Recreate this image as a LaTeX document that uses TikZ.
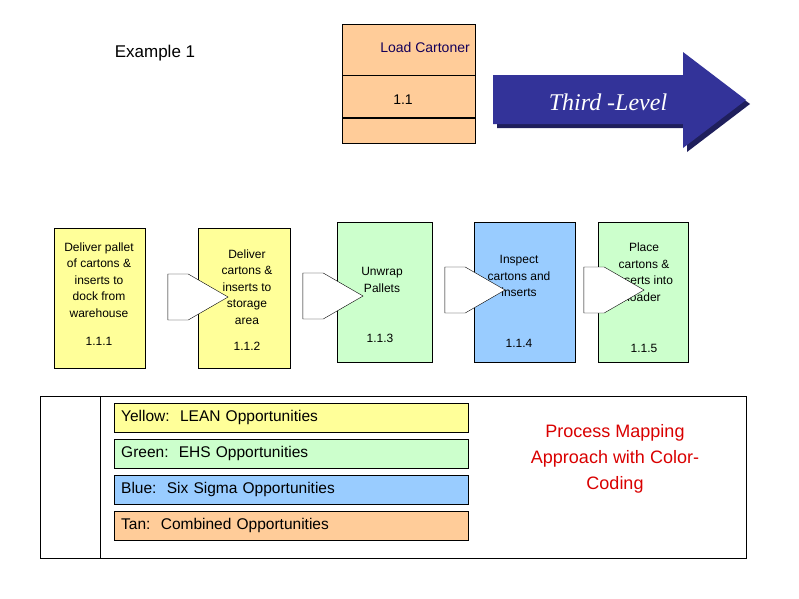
\documentclass[tikz,border=0pt]{standalone}
\usepackage{fontspec}
\setmainfont{Liberation Sans}
\usetikzlibrary{shapes.arrows}
\definecolor{lean}{RGB}{255,255,153}
\definecolor{ehs}{RGB}{204,255,204}
\definecolor{sigma}{RGB}{153,204,255}
\definecolor{tan}{RGB}{255,204,153}
\definecolor{navy}{RGB}{51,51,153}
\definecolor{ink}{RGB}{20,0,90}
\begin{document}
\begin{tikzpicture}[x=1pt,y=-1pt,
  stepbox/.style={align=center, font=\fontsize{12}{16.5}\selectfont},
  legend/.style={draw, anchor=north west, minimum width=354pt, minimum height=29pt, text width=340pt, align=left, font=\fontsize{15.5}{17}\selectfont, inner sep=5pt},
  hollow/.style={single arrow, draw, fill=white, minimum height=34pt, minimum width=46pt, single arrow head extend=0pt, single arrow tip angle=60, inner sep=0pt, text width=20pt, text height=9pt, text depth=9pt}]
\useasboundingbox (0,0) rectangle (799,598);

% top process box
\fill[tan] (342,24) rectangle (475,143);
\draw (342,24) rectangle (475,143);
\draw (342,75) -- (475,75);
\draw[line width=1.5pt] (342,118) -- (475,118);
\node[text=ink, font=\fontsize{14}{16}\selectfont] (lc) at (425,47) {Load Cartoner};
\node[font=\fontsize{14}{16}\selectfont] (l11) at (403,100) {1.1};
\node[font=\fontsize{17}{19}\selectfont] (ex) at (155,53) {Example 1};

% third level arrow
\fill[navy!60!black] (497,79) -- (687,79) -- (687,56) -- (750,104) -- (687,152) -- (687,128) -- (497,128) -- cycle;
\fill[navy] (493,75) -- (683,75) -- (683,52) -- (746,100) -- (683,148) -- (683,124) -- (493,124) -- cycle;
\node[text=white, font=\fontspec{Liberation Serif}\itshape\fontsize{24}{26}\selectfont] (tl) at (608,102) {Third -Level};

% process steps
\fill[lean] (54,228) rectangle (145,368); \draw (54,228) rectangle (145,368);
\node[stepbox] (s1) at (99,280) {Deliver pallet\\of cartons \&\\inserts to\\dock from\\warehouse};
\node[stepbox] (n1) at (99,341) {1.1.1};
\fill[lean] (198,228) rectangle (290,368); \draw (198,228) rectangle (290,368);
\node[stepbox] (s2) at (247,287) {Deliver\\cartons \&\\inserts to\\storage\\area};
\node[stepbox] (n2) at (247,346) {1.1.2};
\fill[ehs] (337,222) rectangle (432,362); \draw (337,222) rectangle (432,362);
\node[stepbox] (s3) at (382,280) {Unwrap\\Pallets};
\node[stepbox] (n3) at (380,338) {1.1.3};
\fill[sigma] (474,222) rectangle (575,362); \draw (474,222) rectangle (575,362);
\node[stepbox] (s4) at (519,276) {Inspect\\cartons and\\inserts};
\node[stepbox] (n4) at (519,343) {1.1.4};
\fill[ehs] (598,222) rectangle (688,362); \draw (598,222) rectangle (688,362);
\node[stepbox] (s5) at (644,272) {Place\\cartons \&\\inserts into\\loader};
\node[stepbox] (n5) at (644,348) {1.1.5};

% hollow connectors
\node[hollow] (a1) at (178,297) {};
\node[hollow] (a2) at (313,296) {};
\node[hollow] (a3) at (455,290) {};
\node[hollow] (a4) at (594,290) {};

% legend frame
\draw (40,396) rectangle (746,558);
\draw (100,396) -- (100,558);
\node[legend, fill=lean] (ly) at (114,403) {Yellow:\ \ LEAN Opportunities};
\node[legend, fill=ehs] (lg) at (114,439) {Green:\ \ EHS Opportunities};
\node[legend, fill=sigma] (lb) at (114,475) {Blue:\ \ Six Sigma Opportunities};
\node[legend, fill=tan] (lt) at (114,511) {Tan:\ \ Combined Opportunities};
\node[text=red!85!black, align=center, font=\fontsize{18}{26}\selectfont] (pm) at (615,459) {Process Mapping\\Approach with Color-\\Coding};
\end{tikzpicture}
\end{document}
